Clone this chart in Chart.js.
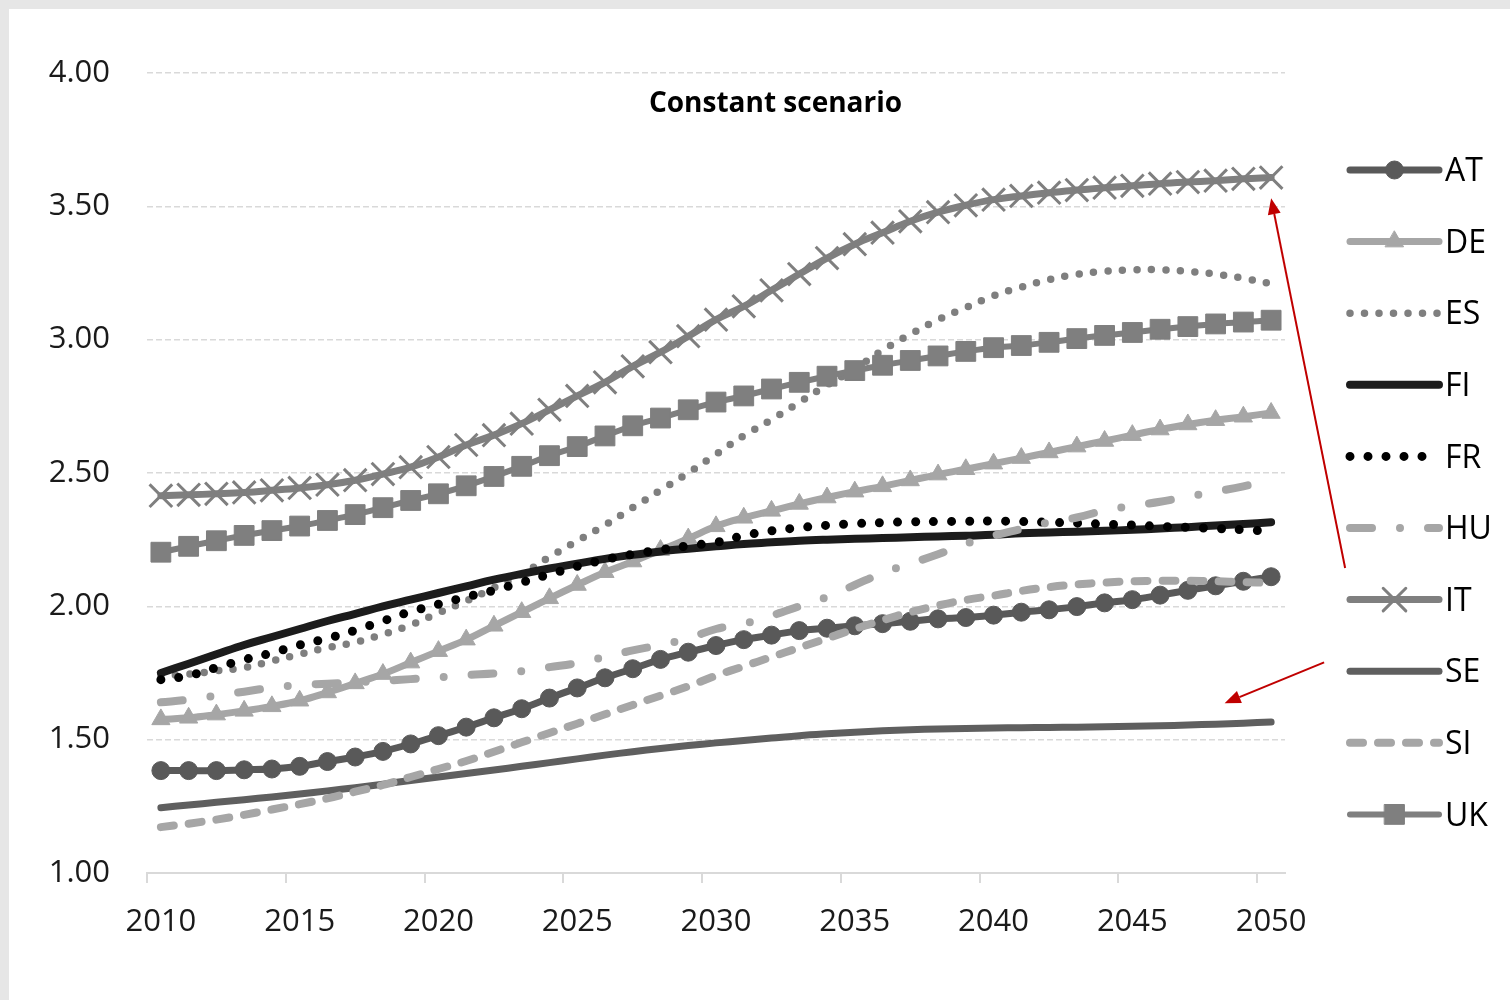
<!DOCTYPE html>
<html>
<head>
<meta charset="utf-8">
<title>Constant scenario</title>
<script src="https://cdn.jsdelivr.net/npm/chart.js@4.4.1/dist/chart.umd.min.js"></script>
<style>
    html, body { margin: 0; padding: 0; background: #e6e6e6; }
    #wrap { position: absolute; left: 9px; top: 9px; width: 1501px; height: 991px; background: #fff; }
</style>
</head>
<body>
<div id="wrap"><canvas id="scenarioChart" width="1501" height="991"></canvas></div>
<script>
// Constant scenario - values per country, 2010..2050

const years = ["2010", "2011", "2012", "2013", "2014", "2015", "2016", "2017", "2018", "2019",
    "2020", "2021", "2022", "2023", "2024", "2025", "2026", "2027", "2028", "2029",
    "2030", "2031", "2032", "2033", "2034", "2035", "2036", "2037", "2038", "2039",
    "2040", "2041", "2042", "2043", "2044", "2045", "2046", "2047", "2048", "2049", "2050"];

const yTicks = [1.0, 1.5, 2.0, 2.5, 3.0, 3.5, 4.0];

const AT = [1.384, 1.384, 1.384, 1.387, 1.39, 1.40, 1.418, 1.435, 1.456, 1.484,
    1.515, 1.547, 1.582, 1.616, 1.656, 1.694, 1.732, 1.766, 1.801, 1.828,
    1.853, 1.875, 1.892, 1.909, 1.918, 1.927, 1.935, 1.944, 1.953, 1.958,
    1.967, 1.978, 1.987, 1.999, 2.013, 2.025, 2.042, 2.06, 2.077, 2.094, 2.111];

const DE = [1.576, 1.582, 1.594, 1.608, 1.625, 1.646, 1.677, 1.711, 1.746, 1.789,
    1.832, 1.875, 1.927, 1.978, 2.03, 2.08, 2.128, 2.168, 2.211, 2.254,
    2.30, 2.332, 2.358, 2.384, 2.408, 2.43, 2.45, 2.472, 2.494, 2.514,
    2.535, 2.556, 2.577, 2.599, 2.62, 2.642, 2.663, 2.682, 2.698, 2.711, 2.725];

const ES = [1.74, 1.746, 1.758, 1.77, 1.795, 1.82, 1.845, 1.865, 1.895, 1.93,
    1.975, 2.02, 2.07, 2.12, 2.185, 2.245, 2.305, 2.37, 2.435, 2.50,
    2.57, 2.64, 2.70, 2.765, 2.83, 2.89, 2.96, 3.02, 3.075, 3.12,
    3.165, 3.197, 3.225, 3.245, 3.256, 3.262, 3.262, 3.256, 3.246, 3.23, 3.21];

const FI = [1.75, 1.785, 1.82, 1.855, 1.885, 1.915, 1.945, 1.972, 2.0, 2.025,
    2.05, 2.075, 2.10, 2.122, 2.142, 2.16, 2.178, 2.193, 2.206, 2.216,
    2.225, 2.234, 2.24, 2.246, 2.25, 2.253, 2.256, 2.259, 2.262, 2.265,
    2.268, 2.274, 2.277, 2.28, 2.283, 2.287, 2.292, 2.297, 2.303, 2.309, 2.315];

const FR = [1.725, 1.74, 1.77, 1.80, 1.825, 1.855, 1.88, 1.91, 1.945, 1.98,
    2.008, 2.035, 2.06, 2.09, 2.12, 2.15, 2.175, 2.195, 2.212, 2.227,
    2.24, 2.265, 2.283, 2.295, 2.304, 2.31, 2.314, 2.317, 2.318, 2.319,
    2.32, 2.318, 2.315, 2.312, 2.308, 2.305, 2.30, 2.296, 2.292, 2.287, 2.282];

const HU = [1.64, 1.65, 1.665, 1.68, 1.695, 1.705, 1.71, 1.715, 1.72, 1.727,
    1.733, 1.742, 1.748, 1.757, 1.772, 1.787, 1.81, 1.835, 1.855, 1.88,
    1.915, 1.935, 1.965, 2.0, 2.035, 2.08, 2.125, 2.16, 2.195, 2.235,
    2.265, 2.29, 2.315, 2.333, 2.36, 2.377, 2.392, 2.412, 2.43, 2.45, 2.475];

const IT = [2.415, 2.418, 2.422, 2.427, 2.435, 2.444, 2.456, 2.473, 2.496, 2.522,
    2.56, 2.605, 2.642, 2.685, 2.737, 2.789, 2.84, 2.90, 2.953, 3.013,
    3.075, 3.125, 3.185, 3.246, 3.306, 3.358, 3.401, 3.444, 3.478, 3.504,
    3.525, 3.539, 3.551, 3.561, 3.57, 3.577, 3.585, 3.591, 3.596, 3.603, 3.608];

const SE = [1.245, 1.255, 1.265, 1.275, 1.285, 1.296, 1.308, 1.32, 1.333, 1.347,
    1.36, 1.373, 1.386, 1.40, 1.414, 1.428, 1.442, 1.455, 1.467, 1.478,
    1.488, 1.497, 1.506, 1.515, 1.522, 1.528, 1.533, 1.537, 1.54, 1.542,
    1.544, 1.545, 1.546, 1.547, 1.548, 1.55, 1.552, 1.555, 1.558, 1.562, 1.566];

const SI = [1.172, 1.185, 1.20, 1.218, 1.238, 1.258, 1.28, 1.305, 1.33, 1.36,
    1.39, 1.42, 1.455, 1.49, 1.525, 1.56, 1.595, 1.63, 1.665, 1.70,
    1.74, 1.775, 1.81, 1.845, 1.88, 1.915, 1.948, 1.978, 2.003, 2.024,
    2.04, 2.058, 2.072, 2.082, 2.089, 2.094, 2.096, 2.096, 2.094, 2.091, 2.088];

const UK = [2.203, 2.225, 2.246, 2.266, 2.284, 2.301, 2.322, 2.344, 2.37, 2.397,
    2.422, 2.452, 2.487, 2.525, 2.565, 2.599, 2.639, 2.677, 2.706, 2.737,
    2.766, 2.789, 2.815, 2.84, 2.863, 2.884, 2.904, 2.922, 2.939, 2.956,
    2.97, 2.978, 2.99, 3.004, 3.016, 3.027, 3.039, 3.049, 3.059, 3.066, 3.073];


Chart.defaults.font.family = "'Open Sans', sans-serif";
Chart.defaults.color = "#1a1a1a";

function series(label, data, color, width, dash, marker, radius, markerBorder) {
    return {
        label: label,
        data: data,
        borderColor: color,
        backgroundColor: color,
        borderWidth: width,
        borderDash: dash || [],
        borderCapStyle: "round",
        borderJoinStyle: "round",
        tension: 0.4,
        pointStyle: marker || false,
        pointRadius: marker ? radius : 0,
        pointHoverRadius: marker ? radius : 0,
        pointBackgroundColor: color,
        pointBorderColor: color,
        pointBorderWidth: markerBorder || 1
    };
}

const datasets = [
    series("AT", AT, "#595959", 7, null, "circle", 9),
    series("DE", DE, "#a6a6a6", 7, null, "triangle", 10.5),
    series("ES", ES, "#7f7f7f", 7.5, [0, 14.5]),
    series("FI", FI, "#1c1c1c", 8),
    series("FR", FR, "#000000", 9, [0, 18]),
    series("HU", HU, "#a6a6a6", 8, [22, 28, 0, 28]),
    series("IT", IT, "#7f7f7f", 7, null, "crossRot", 16, 3),
    series("SE", SE, "#5f5f5f", 7),
    series("SI", SI, "#a6a6a6", 8, [13, 15]),
    series("UK", UK, "#7f7f7f", 6, null, "rect", 14)
];
// later series sit on top, like the original
datasets.forEach((d, i) => { d.order = datasets.length - i; });


// title, legend and the two red arrows
const extras = {
    id: "extras",
    afterDraw(chart) {
        const ctx = chart.ctx;
        const area = chart.chartArea;
        const x = chart.scales.x;
        const y = chart.scales.y;

        ctx.save();
        ctx.fillStyle = "#000";
        ctx.font = "bold 28px 'Open Sans', sans-serif";
        ctx.textAlign = "center";
        ctx.textBaseline = "middle";
        ctx.fillText("Constant scenario", chart.width / 2 + 16, area.top + 31);

        // legend
        const lx1 = area.right + 65, lx2 = area.right + 154;
        ctx.font = "32px 'Open Sans', sans-serif";
        ctx.textAlign = "left";
        chart.data.datasets.forEach((d, i) => {
            const ly = area.top + 97 + i * 71.6;
            ctx.save();
            ctx.strokeStyle = d.borderColor;
            ctx.lineWidth = d.borderWidth;
            ctx.lineCap = "round";
            ctx.setLineDash(d.borderDash);
            ctx.beginPath();
            ctx.moveTo(lx1, ly);
            ctx.lineTo(lx2, ly);
            ctx.stroke();
            ctx.setLineDash([]);
            if (d.pointStyle) {
                ctx.fillStyle = d.pointBackgroundColor;
                ctx.strokeStyle = d.pointBorderColor;
                ctx.lineWidth = d.pointBorderWidth;
                Chart.helpers.drawPoint(ctx, {
                    pointStyle: d.pointStyle,
                    radius: d.pointRadius,
                    rotation: 0,
                    borderWidth: d.pointBorderWidth
                }, (lx1 + lx2) / 2, ly);
            }
            ctx.restore();
            ctx.fillStyle = "#000";
            ctx.fillText(d.label, lx2 + 6, ly + 2);
        });

        // arrows
        const last = years.length - 1;
        arrow(ctx, x.getPixelForValue(last) + 74, y.getPixelForValue(2.144),
            x.getPixelForValue(last), y.getPixelForValue(3.53));
        arrow(ctx, x.getPixelForValue(last) + 53, y.getPixelForValue(1.79),
            x.getPixelForValue(last - 2) + 9, y.getPixelForValue(1.637));
        ctx.restore();
    }
};

function arrow(ctx, x1, y1, x2, y2) {
    const a = Math.atan2(y2 - y1, x2 - x1);
    const len = 16, half = 6.5;
    ctx.save();
    ctx.strokeStyle = "#c00000";
    ctx.fillStyle = "#c00000";
    ctx.lineWidth = 2;
    ctx.beginPath();
    ctx.moveTo(x1, y1);
    ctx.lineTo(x2 - Math.cos(a) * len, y2 - Math.sin(a) * len);
    ctx.stroke();
    ctx.beginPath();
    ctx.moveTo(x2, y2);
    ctx.lineTo(x2 - Math.cos(a) * len - Math.sin(a) * half, y2 - Math.sin(a) * len + Math.cos(a) * half);
    ctx.lineTo(x2 - Math.cos(a) * len + Math.sin(a) * half, y2 - Math.sin(a) * len - Math.cos(a) * half);
    ctx.closePath();
    ctx.fill();
    ctx.restore();
}


const scenarioChart = new Chart(document.getElementById("scenarioChart"), {
    type: "line",

    data: {
        labels: years,
        datasets: datasets
    },

    options: {
        responsive: false,
        animation: false,
        layout: {
            padding: { top: 64, right: 225, left: 0, bottom: 0 }
        },
        plugins: {
            legend: { display: false },
            tooltip: { enabled: false }
        },
        scales: {
            x: {
                offset: true,
                afterFit: (scale) => { scale.height = 127; },
                grid: {
                    offset: true,
                    drawOnChartArea: false,
                    tickLength: 10,
                    lineWidth: 2,
                    color: (c) => (c.index % 5 === 0 ? "#d9d9d9" : "rgba(0,0,0,0)")
                },
                border: { display: true, color: "#d9d9d9", width: 2 },
                ticks: {
                    autoSkip: false,
                    maxRotation: 0,
                    padding: 21,
                    font: { size: 31 },
                    color: "#1a1a1a",
                    callback: function (value, index) {
                        return index % 5 === 0 ? this.getLabelForValue(value) : "";
                    }
                }
            },
            y: {
                min: yTicks[0],
                max: yTicks[yTicks.length - 1],
                afterFit: (scale) => { scale.width = 138; },
                afterBuildTicks: (scale) => { scale.ticks = yTicks.map((v) => ({ value: v })); },
                grid: {
                    drawTicks: false,
                    color: "#d9d9d9",
                    lineWidth: 1.5
                },
                border: { display: false, dash: [6, 3] },
                ticks: {
                    padding: 37,
                    font: { size: 31 },
                    color: "#1a1a1a",
                    callback: (v) => v.toFixed(2)
                }
            }
        }
    },

    plugins: [extras]
});
</script>
</body>
</html>
